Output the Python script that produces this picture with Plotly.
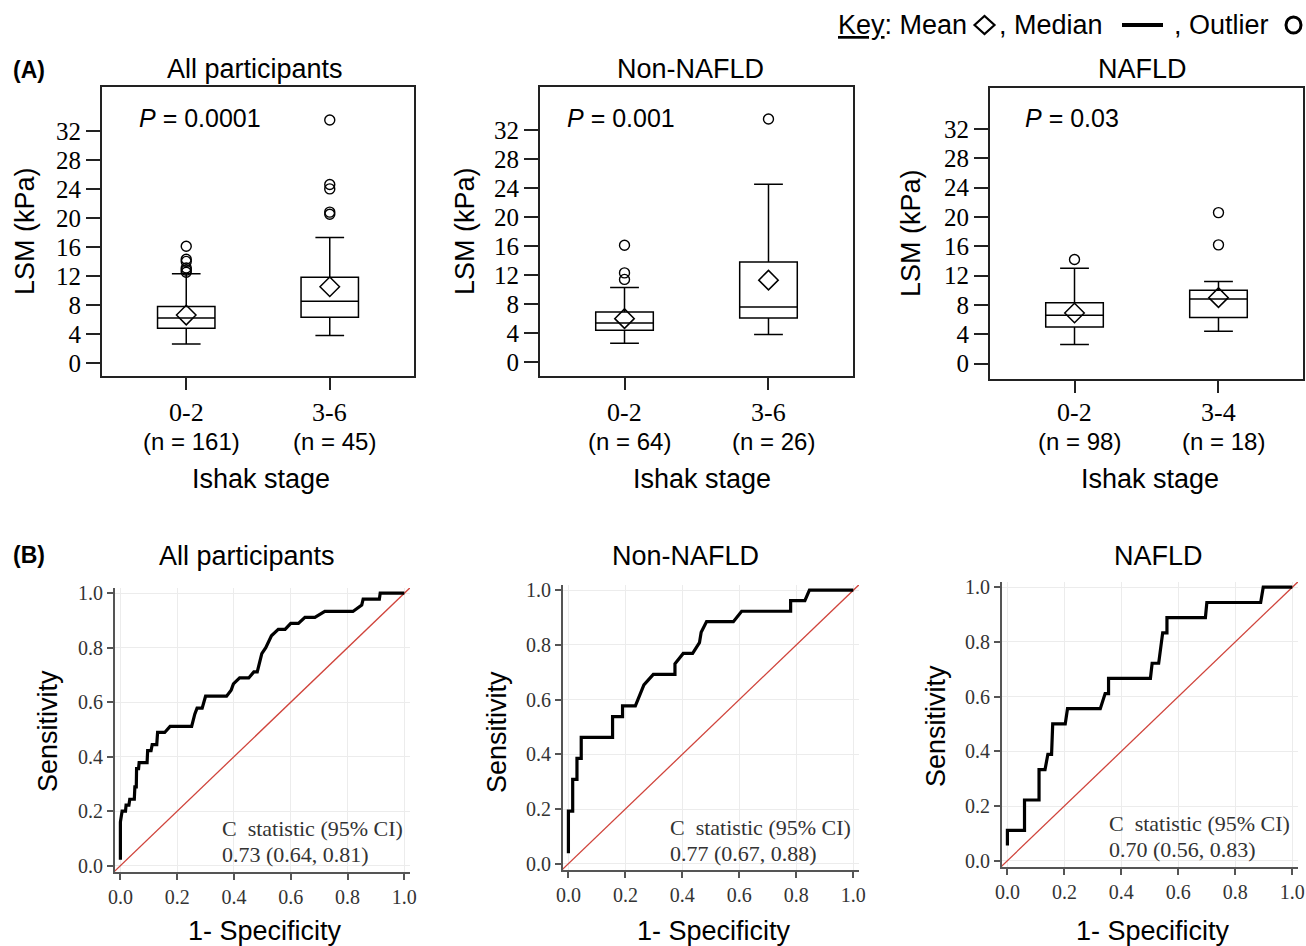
import plotly.graph_objects as go

W, H = 1306, 946
SANS = "Liberation Sans, Arial, sans-serif"
SERIF = "Liberation Serif, Times New Roman, serif"

# ---------------- Panel (A): box plots of LSM by Ishak stage ----------------
box_titles = ["All participants", "Non-NAFLD", "NAFLD"]
p_values = ["0.0001", "0.001", "0.03"]
stage_labels = [["0-2", "3-6"], ["0-2", "3-6"], ["0-2", "3-4"]]
stage_n = [[161, 45], [64, 26], [98, 18]]
q1_vals = [[4.8, 6.3], [4.4, 6.1], [5.0, 6.3]]
median_vals = [[6.2, 8.5], [5.4, 7.6], [6.6, 8.8]]
q3_vals = [[7.8, 11.8], [6.9, 13.8], [8.3, 10.0]]
lower_whisker = [[2.6, 3.8], [2.6, 3.8], [2.6, 4.4]]
upper_whisker = [[12.3, 17.3], [10.3, 24.5], [13.0, 11.2]]
mean_vals = [[6.6, 10.5], [6.0, 11.3], [6.9, 9.0]]
outliers = [
    [[12.5, 12.8, 13.1, 14.0, 14.3, 16.1], [20.5, 20.8, 24.0, 24.6, 33.5]],
    [[11.4, 12.3, 16.1], [33.5]],
    [[14.2], [16.2, 20.6]],
]
lsm_ticks = [0, 4, 8, 12, 16, 20, 24, 28, 32]

# ---------------- Panel (B): ROC curves ----------------
roc_titles = ["All participants", "Non-NAFLD", "NAFLD"]
c_stats = ["0.73 (0.64, 0.81)", "0.77 (0.67, 0.88)", "0.70 (0.56, 0.83)"]
fpr_all = [0, 0, 0.006, 0.018, 0.02, 0.03, 0.033, 0.049, 0.051, 0.056, 0.057, 0.064,
           0.066, 0.094, 0.096, 0.108, 0.112, 0.128, 0.131, 0.156, 0.175, 0.251, 0.262,
           0.27, 0.288, 0.30, 0.374, 0.39, 0.398, 0.42, 0.452, 0.47, 0.482, 0.498,
           0.512, 0.532, 0.556, 0.58, 0.60, 0.627, 0.65, 0.685, 0.72, 0.819, 0.85,
           0.855, 0.912, 0.915, 1.0]
tpr_all = [0.022, 0.16, 0.20, 0.20, 0.222, 0.222, 0.244, 0.244, 0.289, 0.289, 0.356, 0.356,
           0.378, 0.378, 0.422, 0.422, 0.444, 0.444, 0.489, 0.489, 0.511, 0.511, 0.556,
           0.578, 0.578, 0.622, 0.622, 0.644, 0.667, 0.689, 0.689, 0.711, 0.711, 0.778,
           0.80, 0.844, 0.867, 0.867, 0.889, 0.889, 0.911, 0.911, 0.933, 0.933, 0.956,
           0.978, 0.978, 1.0, 1.0]
fpr_non = [0, 0, 0.015, 0.015, 0.03, 0.03, 0.045, 0.045, 0.155, 0.155, 0.19, 0.19, 0.235,
           0.265, 0.298, 0.374, 0.374, 0.39, 0.403, 0.436, 0.46, 0.466, 0.485, 0.579,
           0.608, 0.78, 0.78, 0.83, 0.846, 1.0]
tpr_non = [0.038, 0.192, 0.192, 0.308, 0.308, 0.385, 0.385, 0.462, 0.462, 0.538, 0.538,
           0.577, 0.577, 0.654, 0.692, 0.692, 0.731, 0.75, 0.769, 0.769, 0.808, 0.846,
           0.885, 0.885, 0.923, 0.923, 0.962, 0.962, 1.0, 1.0]
fpr_nafld = [0, 0, 0.06, 0.06, 0.111, 0.111, 0.132, 0.142, 0.155, 0.159, 0.203, 0.211,
             0.326, 0.343, 0.355, 0.355, 0.502, 0.508, 0.531, 0.545, 0.56, 0.56, 0.695,
             0.70, 0.889, 0.898, 1.0]
tpr_nafld = [0.056, 0.111, 0.111, 0.222, 0.222, 0.333, 0.333, 0.389, 0.389, 0.5, 0.5,
             0.556, 0.556, 0.611, 0.611, 0.667, 0.667, 0.722, 0.722, 0.833, 0.833, 0.889,
             0.889, 0.944, 0.944, 1.0, 1.0]
roc_fpr = [fpr_all, fpr_non, fpr_nafld]
roc_tpr = [tpr_all, tpr_non, tpr_nafld]
chance = [-0.05, 1.05]
roc_ticks = [0, 0.2, 0.4, 0.6, 0.8, 1.0]


def px(x):
    return x / W


def py(y):
    return 1 - y / H


def note(text, x, y, size, family=SANS, color="black", xanchor="center", **kw):
    d = dict(text=text, x=px(x), y=py(y), xref="paper", yref="paper",
             xanchor=xanchor, yanchor="middle", showarrow=False,
             font=dict(family=family, size=size, color=color))
    d.update(kw)
    return d


fig = go.Figure()
layout = {}
annotations = []
shapes = []

# Layout geometry (pixels)
box_frames = [(102, 414, 87, 376), (540, 853, 87, 376), (990, 1303, 88, 379)]
box_yranges = [[-1.8, 38.05], [-1.9, 37.9], [-2.1, 37.6]]
roc_frames = [(115, 410, 588, 872), (563, 859, 585, 870), (1002, 1298, 582, 867)]
title_a_x = [255, 690, 1142]
title_b_x = [247, 685, 1158]
lsm_title_x = [25, 465, 911]
lsm_title_y = [231, 231, 233]
ishak_x = [261, 702, 1150]
ptext_x = [137, 565, 1023]
sens_x = [48, 497, 936]
sens_y = [731, 732, 726]
spec_x = [265, 714, 1153]
cstat_x = [220, 668, 1107]
cstat_y = [828, 827, 823]

for i in range(3):
    k = i + 1
    xa = "x" if k == 1 else f"x{k}"
    ya = "y" if k == 1 else f"y{k}"
    x0, x1, y0, y1 = box_frames[i]
    layout["xaxis" if k == 1 else f"xaxis{k}"] = dict(
        domain=[px(x0), px(x1)], anchor=ya, range=[-0.587, 1.587], automargin=False,
        tickvals=[0, 1], showticklabels=False, ticks="outside", ticklen=12,
        tickwidth=1.5, tickcolor="#222", showline=True, mirror=True,
        linecolor="#222", linewidth=2, showgrid=False, zeroline=False, fixedrange=True)
    layout["yaxis" if k == 1 else f"yaxis{k}"] = dict(
        domain=[py(y1), py(y0)], anchor=xa, range=box_yranges[i], automargin=False,
        tickvals=lsm_ticks, ticks="outside", ticklen=14, tickwidth=1.5,
        tickcolor="#222", showline=True, mirror=True, linecolor="#222",
        linewidth=2, showgrid=False, zeroline=False,
        tickfont=dict(family=SERIF, size=25, color="black"))

    fig.add_trace(go.Box(
        x=[0, 1], q1=q1_vals[i], median=median_vals[i], q3=q3_vals[i],
        lowerfence=lower_whisker[i], upperfence=upper_whisker[i],
        width=0.4, whiskerwidth=0.5, fillcolor="white",
        line=dict(color="black", width=1.5), boxpoints=False,
        xaxis=xa, yaxis=ya, showlegend=False, hoverinfo="skip"))
    ox, oy = [], []
    for g in range(2):
        ox += [g] * len(outliers[i][g])
        oy += outliers[i][g]
    fig.add_trace(go.Scatter(
        x=ox, y=oy, mode="markers", xaxis=xa, yaxis=ya, showlegend=False,
        marker=dict(symbol="circle-open", size=10, color="black",
                    line=dict(width=1.4, color="black"))))
    fig.add_trace(go.Scatter(
        x=[0, 1], y=mean_vals[i], mode="markers", xaxis=xa, yaxis=ya,
        showlegend=False,
        marker=dict(symbol="diamond-open", size=15, color="black",
                    line=dict(width=1.5, color="black"))))

    annotations.append(note(box_titles[i], title_a_x[i], 69, 27))
    annotations.append(note(f"<i>P</i> = {p_values[i]}", ptext_x[i], 118, 25, xanchor="left"))
    annotations.append(note("LSM (kPa)", lsm_title_x[i], lsm_title_y[i], 27, textangle=-90))
    annotations.append(note("Ishak stage", ishak_x[i], 479, 27))
    for g in range(2):
        annotations.append(dict(text=stage_labels[i][g], x=g, xref=xa, y=py(413),
                                yref="paper", xanchor="center", yanchor="middle",
                                showarrow=False,
                                font=dict(family=SERIF, size=26, color="black")))
        annotations.append(dict(text=f"(n = {stage_n[i][g]})", x=g, xref=xa, xshift=5,
                                y=py(441), yref="paper", xanchor="center", yanchor="middle",
                                showarrow=False,
                                font=dict(family=SANS, size=24, color="black")))

for i in range(3):
    k = i + 4
    xa, ya = f"x{k}", f"y{k}"
    x0, x1, y0, y1 = roc_frames[i]
    layout[f"xaxis{k}"] = dict(
        domain=[px(x0), px(x1)], anchor=ya, range=[-0.019, 1.02], automargin=False,
        tickvals=roc_ticks, tickformat=".1f", ticks="outside", ticklen=6,
        tickwidth=1.5, tickcolor="#555", showline=True, linecolor="#555",
        linewidth=2, showgrid=True, gridcolor="#ececec", gridwidth=1.2,
        zeroline=False, tickfont=dict(family=SERIF, size=20, color="#333"))
    layout[f"yaxis{k}"] = dict(
        domain=[py(y1), py(y0)], anchor=xa, range=[-0.023, 1.019], automargin=False,
        tickvals=roc_ticks, tickformat=".1f", ticks="outside", ticklen=6,
        tickwidth=1.5, tickcolor="#555", showline=True, linecolor="#555",
        linewidth=2, showgrid=True, gridcolor="#ececec", gridwidth=1.2,
        zeroline=False, tickfont=dict(family=SERIF, size=20, color="#333"))
    fig.add_trace(go.Scatter(x=chance, y=chance, mode="lines", xaxis=xa, yaxis=ya,
                             showlegend=False, line=dict(color="#d0443c", width=1.3)))
    fig.add_trace(go.Scatter(x=roc_fpr[i], y=roc_tpr[i], mode="lines", xaxis=xa, yaxis=ya,
                             showlegend=False, line=dict(color="black", width=3.2)))

    annotations.append(note(roc_titles[i], title_b_x[i], 556, 27))
    annotations.append(note("Sensitivity", sens_x[i], sens_y[i], 27, textangle=-90))
    annotations.append(note("1- Specificity", spec_x[i], 931, 27))
    annotations.append(note("C  statistic (95% CI)", cstat_x[i], cstat_y[i], 22,
                            family=SERIF, color="#333", xanchor="left"))
    annotations.append(note(c_stats[i], cstat_x[i], cstat_y[i] + 26, 22,
                            family=SERIF, color="#333", xanchor="left"))

# panel labels
annotations.append(note("<b>(A)</b>", 11, 70, 23, xanchor="left"))
annotations.append(note("<b>(B)</b>", 11, 555, 23, xanchor="left"))

# key
annotations.append(note("<u>Key</u>: Mean", 836, 25, 27, xanchor="left"))
annotations.append(note(", Median", 997, 25, 27, xanchor="left"))
annotations.append(note(", Outlier", 1172, 25, 27, xanchor="left"))
cx, cy = 984.5, 25
shapes.append(dict(type="path", xref="paper", yref="paper",
                   path=f"M {px(cx-10)},{py(cy)} L {px(cx)},{py(cy-9)} L {px(cx+10)},{py(cy)} L {px(cx)},{py(cy+9)} Z",
                   line=dict(color="black", width=2.2)))
shapes.append(dict(type="line", xref="paper", yref="paper", x0=px(1122), x1=px(1163),
                   y0=py(25), y1=py(25), line=dict(color="black", width=4)))
shapes.append(dict(type="circle", xref="paper", yref="paper", x0=px(1286), x1=px(1301),
                   y0=py(17), y1=py(33), line=dict(color="black", width=3)))

fig.update_layout(**layout)
fig.update_layout(width=W, height=H, margin=dict(l=0, r=0, t=0, b=0),
                  paper_bgcolor="white", plot_bgcolor="white",
                  annotations=annotations, shapes=shapes, showlegend=False)
fig.write_html("out.html", config={"displayModeBar": False},
               post_script="document.body.style.margin='0px';document.body.style.overflow='hidden';")
